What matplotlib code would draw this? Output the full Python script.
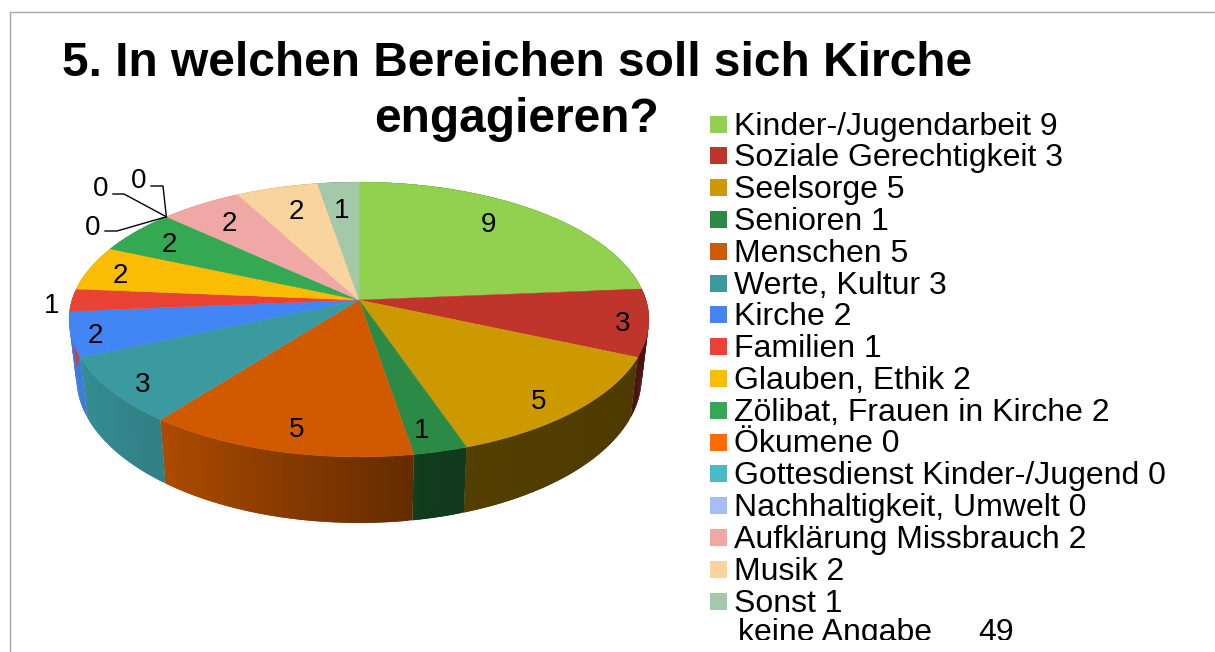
import matplotlib
matplotlib.use('Agg')
import matplotlib.pyplot as plt
import numpy as np
from matplotlib.colors import to_rgb
from matplotlib.patches import Rectangle

names = ['Kinder-/Jugendarbeit', 'Soziale Gerechtigkeit', 'Seelsorge', 'Senioren', 'Menschen',
         'Werte, Kultur', 'Kirche', 'Familien', 'Glauben, Ethik', 'Zölibat, Frauen in Kirche',
         'Ökumene', 'Gottesdienst Kinder-/Jugend', 'Nachhaltigkeit, Umwelt',
         'Aufklärung Missbrauch', 'Musik', 'Sonst']
values = [9, 3, 5, 1, 5, 3, 2, 1, 2, 2, 0, 0, 0, 2, 2, 1]
colors = ['#92D050', '#C0352B', '#CC9900', '#2A8A46', '#D15A00', '#3A9AA0', '#4285F4', '#EA4335',
          '#FBBC04', '#34A853', '#FF6D01', '#46BDC6', '#A8BCF8', '#F0A8A6', '#F9D49E', '#A3C9A8']
no_answer_label = 'keine Angabe'
no_answer_value = 49

# where the value labels sit, in pixels of the picture
label_xy = [(488, 225), (623, 324), (539, 402), (422, 431), (297, 430), (143, 385), (95, 336),
            (52, 306), (120, 276), (169, 245), (93, 228), (101, 189), (139, 181), (229, 224),
            (296, 212), (342, 211)]
# leader lines of the three zero labels
leaders = {10: [(117, 231), (105, 231)], 11: [(124, 194), (113, 194)], 12: [(163, 186), (151, 186)]}

CX, CY = 359, 300
A, B, K = 287, 134.7, 0.1418
DEPTH = 56.6


def rim(theta):
    # perspective view of the pie, theta clockwise from the top
    w = 1 + K * np.cos(theta)
    return CX + A * np.sin(theta) / w, CY - B * np.cos(theta) / w, w


def side_shade(x):
    return np.interp(x, [70, 165, 300, 413, 420, 470, 640], [0.92, 0.82, 0.62, 0.48, 0.42, 0.41, 0.38])


fig = plt.figure(figsize=(12.15, 6.52), dpi=100)
ax = fig.add_axes([0, 0, 1, 1])
ax.set_xlim(0, 1215)
ax.set_ylim(652, 0)
ax.axis('off')
plt.rcParams['font.family'] = ['Liberation Sans', 'DejaVu Sans']

# frame
ax.plot([10, 10, 1215], [652, 12, 12], color='#a6a6a6', lw=1)

ax.text(517, 64, '5. In welchen Bereichen soll sich Kirche', ha='center', va='center',
        fontsize=34.45, fontweight='bold')
ax.text(516, 120, 'engagieren?', ha='center', va='center', fontsize=34.45, fontweight='bold')

edges = np.cumsum([0] + values) / sum(values) * 2 * np.pi

# side wall first, the top covers what is behind it
for i, val in enumerate(values):
    if val == 0:
        continue
    steps = np.linspace(edges[i], edges[i + 1], val * 12 + 1)
    base = np.array(to_rgb(colors[i]))
    for j, (t0, t1) in enumerate(zip(steps[:-1], steps[1:])):
        # each strip runs on under the next one so no seams show
        t_end = t1 if j == len(steps) - 2 else t1 + (t1 - t0)
        x0, y0, w0 = rim(t0)
        x1, y1, w1 = rim(t_end)
        xb0 = CX + (x0 - CX) * 0.975
        xb1 = CX + (x1 - CX) * 0.975
        c = base * side_shade((x0 + x1) / 2)
        ax.fill([x0, x1, xb1, xb0], [y0, y1, y1 + DEPTH / w1, y0 + DEPTH / w0],
                color=c, lw=0, zorder=2)

for i, val in enumerate(values):
    if val == 0:
        continue
    t = np.linspace(edges[i], edges[i + 1], val * 20 + 1)
    x, y, _ = rim(t)
    ax.fill(np.r_[CX, x], np.r_[CY, y], color=colors[i], lw=0.3, zorder=3)

for i, val in enumerate(values):
    ax.text(label_xy[i][0], label_xy[i][1], str(val), ha='center', va='center', fontsize=20, zorder=5)

for i, pts in leaders.items():
    x0, y0, _ = rim(edges[i])
    ax.plot([x0] + [p[0] for p in pts], [y0] + [p[1] for p in pts], color='black', lw=1, zorder=4)

# legend
for i, (name, val) in enumerate(zip(names, values)):
    yc = 124 + i * 31.8
    ax.add_patch(Rectangle((710, yc - 8.5), 17, 17, color=colors[i], lw=0))
    ax.text(734, yc + 2.5, f'{name} {val}', ha='left', va='center', fontsize=23)

# last line is cut off at the bottom in the original
clip = Rectangle((700, 600), 515, 40, transform=ax.transData)
t1 = ax.text(738, 633, no_answer_label, ha='left', va='center', fontsize=23, clip_on=True)
t2 = ax.text(978, 633, str(no_answer_value), ha='left', va='center', fontsize=23, clip_on=True)
t1.set_clip_path(clip)
t2.set_clip_path(clip)

fig.savefig('out.png', dpi=100)
